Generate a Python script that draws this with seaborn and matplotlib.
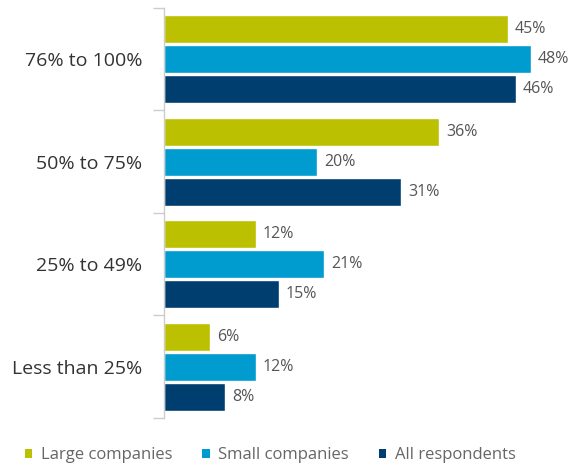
import matplotlib
matplotlib.use("Agg")
import matplotlib.pyplot as plt
import seaborn as sns
import pandas as pd
import numpy as np
from matplotlib.patches import Patch

categories = ["76% to 100%", "50% to 75%", "25% to 49%", "Less than 25%"]
series = ["Large companies", "Small companies", "All respondents"]
large = [45, 36, 12, 6]
small = [48, 20, 21, 12]
allr = [46, 31, 15, 8]
colors = ["#BBC000", "#009BCF", "#003E70"]

rows = []
for s, vals in zip(series, [large, small, allr]):
    for c, v in zip(categories, vals):
        rows.append({"Category": c, "Series": s, "Value": v})
df = pd.DataFrame(rows)

sns.set_style("white")
plt.rcParams['font.family'] = ['Open Sans', 'DejaVu Sans']

fig = plt.figure(figsize=(5.75, 4.68), dpi=100)
ax = fig.add_axes([0.285, 0.107, 0.705, 0.876])

sns.barplot(data=df, y="Category", x="Value", hue="Series", order=categories,
            hue_order=series, palette=colors, orient="h", width=0.88, gap=0.07,
            ax=ax, legend=False, saturation=1)

for cont in ax.containers:
    ax.bar_label(cont, labels=[f"{int(v)}%" for v in cont.datavalues], padding=5,
                 fontsize=11.5, color="#555555")

ax.set_xlim(0, 53)
ax.set_ylim(3.5, -0.5)
ax.set_xlabel("")
ax.set_ylabel("")
ax.set_xticks([])
ax.tick_params(axis="y", which="major", left=False, length=0, pad=15.5, labelsize=14, labelcolor="#333333")
ax.set_yticks(np.arange(-0.5, 4.0, 1.0), minor=True)
ax.tick_params(axis="y", which="minor", left=True, length=8, width=1, color="#CCCCCC", direction="out")
for side in ["top", "right", "bottom"]:
    ax.spines[side].set_visible(False)
ax.spines["left"].set_color("#CCCCCC")
ax.spines["left"].set_linewidth(1)

handles = [Patch(facecolor=c, edgecolor="none", label=s) for c, s in zip(colors, series)]
fig.legend(handles=handles, loc="center", bbox_to_anchor=(0.47, 0.027), ncol=3, frameon=False,
           fontsize=12, handlelength=0.45, handleheight=0.45, handletextpad=0.5, columnspacing=1.8,
           labelcolor="#666666")

fig.savefig("out.png", dpi=100)
